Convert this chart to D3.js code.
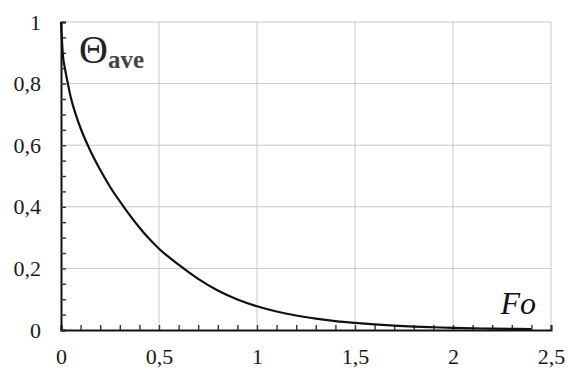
<!DOCTYPE html>
<html lang="en">
<head>
    <meta charset="UTF-8">
    <title>Average temperature vs Fourier number</title>
    <script src="https://d3js.org/d3.v7.min.js"></script>
    <style>
        body { margin: 0; background: #fff; }
        .grid line { stroke: #c8c8c8; stroke-width: 1; }
    </style>
</head>
<body>
    <script>
        // curve
        const fo = [0, 0.01, 0.02, 0.035, 0.05, 0.075, 0.1, 0.14, 0.2, 0.25, 0.32, 0.4, 0.45, 0.5,
            0.6, 0.7, 0.8, 0.9, 1.0, 1.1, 1.2, 1.3, 1.4, 1.5, 1.6, 1.7, 1.8, 1.9, 2.0, 2.2, 2.4];
        const thetaAve = [1.0, 0.89, 0.85, 0.8, 0.755, 0.7, 0.655, 0.595, 0.52, 0.465, 0.4, 0.333, 0.296, 0.264,
            0.212, 0.166, 0.128, 0.099, 0.077, 0.06, 0.047, 0.037, 0.029, 0.023, 0.018, 0.014, 0.011, 0.009, 0.007, 0.0045, 0.003];

        const xTicks = [0, 0.5, 1, 1.5, 2, 2.5];
        const yTicks = [0, 0.2, 0.4, 0.6, 0.8, 1];
        const xMinor = d3.range(0, 26).map(i => i / 10);
        const yMinor = d3.range(0, 21).map(i => i / 20);

        const serif = "'Liberation Serif', 'Times New Roman', serif";
        const width = 568, height = 370;
        const margin = { top: 22, right: 17, bottom: 40, left: 61 };

        const x = d3.scaleLinear().domain([0, 2.5]).range([margin.left, width - margin.right]);
        const y = d3.scaleLinear().domain([0, 1]).range([height - margin.bottom, margin.top]);

        const comma = d3.formatLocale({ decimal: ",", thousands: " ", grouping: [3], currency: ["", ""] }).format("~g");

        const svg = d3.select("body").append("svg")
            .attr("width", width)
            .attr("height", height);

        // grid
        svg.append("g").attr("class", "grid")
            .selectAll("line").data(xTicks.slice(1)).enter().append("line")
            .attr("x1", d => x(d)).attr("x2", d => x(d))
            .attr("y1", y(0)).attr("y2", y(1));
        svg.append("g").attr("class", "grid")
            .selectAll("line").data(yTicks.slice(1)).enter().append("line")
            .attr("x1", x(0)).attr("x2", x(2.5))
            .attr("y1", d => y(d)).attr("y2", d => y(d));

        // minor ticks pointing inwards
        const xAxis = svg.append("g")
            .attr("transform", "translate(0," + y(0) + ")")
            .call(d3.axisBottom(x).tickValues(xMinor).tickSize(-5).tickFormat(""));
        const yAxis = svg.append("g")
            .attr("transform", "translate(" + x(0) + ",0)")
            .call(d3.axisLeft(y).tickValues(yMinor).tickSize(-5).tickFormat(""));
        [xAxis, yAxis].forEach(a => {
            a.select(".domain").attr("stroke", "#111").attr("stroke-width", 2);
            a.selectAll(".tick line").attr("stroke", "#333").attr("stroke-width", 1.4);
        });

        // labels
        const xLab = svg.append("g")
            .attr("transform", "translate(0," + y(0) + ")")
            .call(d3.axisBottom(x).tickValues(xTicks).tickSize(0).tickPadding(18).tickFormat(comma));
        const yLab = svg.append("g")
            .attr("transform", "translate(" + x(0) + ",0)")
            .call(d3.axisLeft(y).tickValues(yTicks).tickSize(0).tickPadding(20).tickFormat(comma));
        [xLab, yLab].forEach(a => {
            a.select(".domain").remove();
            a.attr("font-family", serif).attr("font-size", 22);
            a.selectAll("text")
                .style("font-family", serif)
                .style("font-size", "22px")
                .style("fill", "#1a1a1a");
        });

        // curve
        const line = d3.line()
            .x((d, i) => x(fo[i]))
            .y(d => y(d))
            .curve(d3.curveMonotoneX);
        svg.append("path")
            .datum(thetaAve)
            .attr("fill", "none")
            .attr("stroke", "#111")
            .attr("stroke-width", 2.2)
            .attr("d", line);

        // axis titles
        const th = svg.append("text")
            .attr("x", 79).attr("y", 63)
            .style("font-family", serif)
            .style("fill", "#222");
        th.append("tspan").style("font-size", "40px").text("Θ");
        th.append("tspan").attr("dy", 5).style("font-size", "25px").style("font-weight", "bold").style("fill", "#444").text("ave");

        svg.append("text")
            .attr("x", 536).attr("y", 314)
            .attr("text-anchor", "end")
            .style("font-family", serif)
            .style("font-style", "italic")
            .style("font-size", "32px")
            .style("fill", "#111")
            .text("Fo");
    </script>
</body>
</html>
